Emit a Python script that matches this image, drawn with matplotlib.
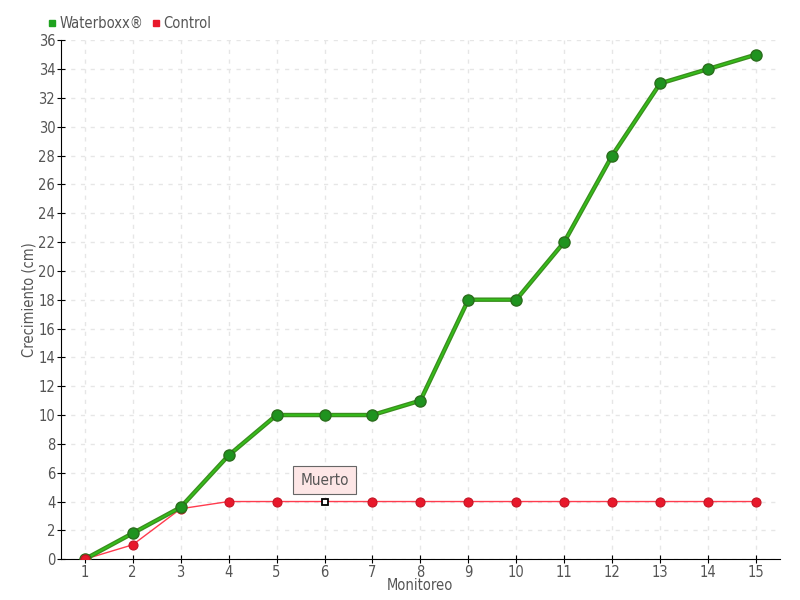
import matplotlib.pyplot as plt
from matplotlib.lines import Line2D

monitoreo = list(range(1, 16))
waterboxx = [0, 1.8, 3.6, 7.2, 10, 10, 10, 11, 18, 18, 22, 28, 33, 34, 35]
control = [0, 1, 3.5, 4, 4, 4, 4, 4, 4, 4, 4, 4, 4, 4, 4]
muerto_idx = 5

plt.rcParams['font.family'] = ['DejaVu Sans']
plt.rcParams['font.stretch'] = 'condensed'
gris = "#555555"

fig = plt.figure(figsize=(8, 6), dpi=100)
ax = fig.add_axes([0.076, 0.068, 0.899, 0.865])

# Control
ax.plot(monitoreo, control, color="#ff3b4e", lw=1, zorder=3)
ax.plot([x for i, x in enumerate(monitoreo) if i != muerto_idx],
        [y for i, y in enumerate(control) if i != muerto_idx],
        'o', ms=6.5, color="#e8182b", mec="#c51525", mew=0.8, zorder=4)
ax.plot(monitoreo[muerto_idx], control[muerto_idx], 's', ms=4.5,
        mfc="white", mec="black", mew=1.3, zorder=6)

# Waterboxx
ax.plot(monitoreo, waterboxx, color="#3a8f1e", lw=3.2, zorder=4)
ax.plot(monitoreo, waterboxx, color="#35c01a", lw=1.2, zorder=5)
ax.plot(monitoreo, waterboxx, 'o', ms=8, color="#1f931f", mec="#2a6e1c", mew=1, zorder=5)
ax.plot(monitoreo[0], control[0], 'o', ms=6.5, color="#e8182b", mec="#c51525", zorder=6)

ax.annotate("Muerto", xy=(monitoreo[muerto_idx], control[muerto_idx]),
            xytext=(0, 15.5), textcoords="offset points", ha="center", va="center",
            fontsize=11, color=gris,
            bbox=dict(boxstyle="square,pad=0.45", fc="#fde6e6", ec="#666666", lw=0.8),
            zorder=7)

ax.set_xlim(0.5, 15.5)
ax.set_ylim(0, 36)
ax.set_xticks(monitoreo)
ax.set_yticks(range(0, 37, 2))
ax.grid(True, ls=(0, (3, 4)), color="#e6e6e6", lw=1)
ax.set_axisbelow(True)
for s in ['top', 'right']:
    ax.spines[s].set_visible(False)
ax.tick_params(direction='inout', length=6, colors=gris, labelsize=10.5, pad=1)
ax.tick_params(axis='both', color='black')
ax.set_xlabel("Monitoreo", color=gris, fontsize=10.5, labelpad=-1)
ax.set_ylabel("Crecimiento (cm)", color=gris, fontsize=10.5, labelpad=1)

handles = [Line2D([], [], ls='', marker='s', ms=5, color="#1fa31f"),
           Line2D([], [], ls='', marker='s', ms=5, color="#e8182b")]
fig.legend(handles, ["Waterboxx®", "Control"], loc="upper left",
           bbox_to_anchor=(0.043, 0.995), ncol=2, frameon=False, handlelength=0.6,
           handletextpad=0.2, columnspacing=0.6, fontsize=10.5, labelcolor=gris)

fig.savefig("out.png")
